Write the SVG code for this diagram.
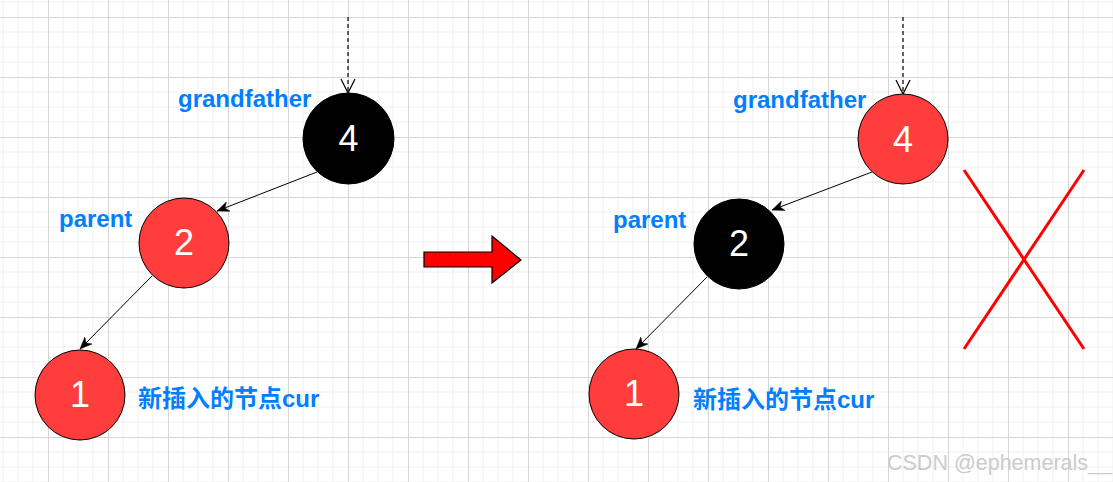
<svg xmlns="http://www.w3.org/2000/svg" width="1113" height="482" viewBox="0 0 1113 482">
<style>
.node{stroke:#000;stroke-width:1}
.red{fill:#FF3D3D}
.blk{fill:#000}
.num{font-family:"Liberation Sans",Arial,sans-serif;font-size:36px;fill:#fff;text-anchor:middle}
.lbl{font-family:"Liberation Sans","Noto Sans CJK SC",sans-serif;font-weight:bold;font-size:24px;fill:#007FFF}
.edge{stroke:#000;stroke-width:1;fill:none}
.dash{stroke:#000;stroke-width:1.2;fill:none;stroke-dasharray:4 3}
.cross{stroke:#FF0000;stroke-width:3;fill:none}
.wm{font-family:"Liberation Sans",Arial,sans-serif;font-size:21.5px;fill:#cccccc}
</style>
<defs>
<pattern id="grid" patternUnits="userSpaceOnUse" x="48" y="17" width="60" height="60">
<path d="M15 0V60M30 0V60M45 0V60M0 15H60M0 30H60M0 45H60" stroke="#efefef" stroke-width="1"/>
<path d="M0.5 0V60M0 0.5H60" stroke="#d6d6d6" stroke-width="1"/>
</pattern>
<marker id="arr" viewBox="0 0 12 12" refX="12" refY="6" markerWidth="12" markerHeight="12" markerUnits="userSpaceOnUse" orient="auto">
<path d="M0 1L12 6L0 11L3.5 6Z" fill="#000" stroke="#000" stroke-width="0.5"/>
</marker>
<marker id="open" viewBox="0 0 16 16" refX="15" refY="8" markerWidth="16" markerHeight="16" markerUnits="userSpaceOnUse" orient="auto">
<path d="M1 1L15 8L1 15" fill="none" stroke="#000" stroke-width="1.2"/>
</marker>
</defs>
<rect width="1113" height="482" fill="#fff"/>
<rect width="1113" height="482" fill="url(#grid)"/>

<g id="connectors">
<line class="dash" x1="348" y1="17" x2="348" y2="93" marker-end="url(#open)"/>
<line class="edge" x1="317" y1="172" x2="217" y2="211" marker-end="url(#arr)"/>
<line class="edge" x1="152" y1="276" x2="80" y2="349" marker-end="url(#arr)"/>
<line class="dash" x1="903" y1="17" x2="903" y2="94" marker-end="url(#open)"/>
<line class="edge" x1="872" y1="172" x2="772" y2="210" marker-end="url(#arr)"/>
<line class="edge" x1="707" y1="277" x2="636" y2="349" marker-end="url(#arr)"/>
</g>

<g id="left-node4"><circle class="node blk" cx="348.5" cy="138.5" r="45.5"/><text class="num" x="348.5" y="151">4</text></g>
<g id="left-node2"><circle class="node red" cx="184" cy="243" r="45"/><text class="num" x="184" y="255">2</text></g>
<g id="left-node1"><circle class="node red" cx="80" cy="395" r="45"/><text class="num" x="80" y="407">1</text></g>
<g id="left-labels">
<text class="lbl" x="178" y="107">grandfather</text>
<text class="lbl" x="59" y="227">parent</text>
<text class="lbl" x="138" y="407">新插入的节点cur</text>
</g>

<g id="transform-arrow"><polygon points="424,252 492,252 492,236 521,260 492,283 492,267 424,267" fill="#FF0000" stroke="#000" stroke-width="1.2"/></g>

<g id="right-node4"><circle class="node red" cx="903" cy="139" r="45"/><text class="num" x="903" y="152">4</text></g>
<g id="right-node2"><circle class="node blk" cx="739" cy="244" r="45"/><text class="num" x="739" y="256">2</text></g>
<g id="right-node1"><circle class="node red" cx="634" cy="394" r="45"/><text class="num" x="634" y="406">1</text></g>
<g id="right-labels">
<text class="lbl" x="733" y="108">grandfather</text>
<text class="lbl" x="613" y="228">parent</text>
<text class="lbl" x="693" y="408">新插入的节点cur</text>
</g>

<g id="cross">
<line class="cross" x1="964" y1="170" x2="1084" y2="349"/>
<line class="cross" x1="1084" y1="170" x2="964" y2="349"/>
</g>

<text class="wm" x="887" y="470">CSDN @ephemerals__</text>
</svg>
